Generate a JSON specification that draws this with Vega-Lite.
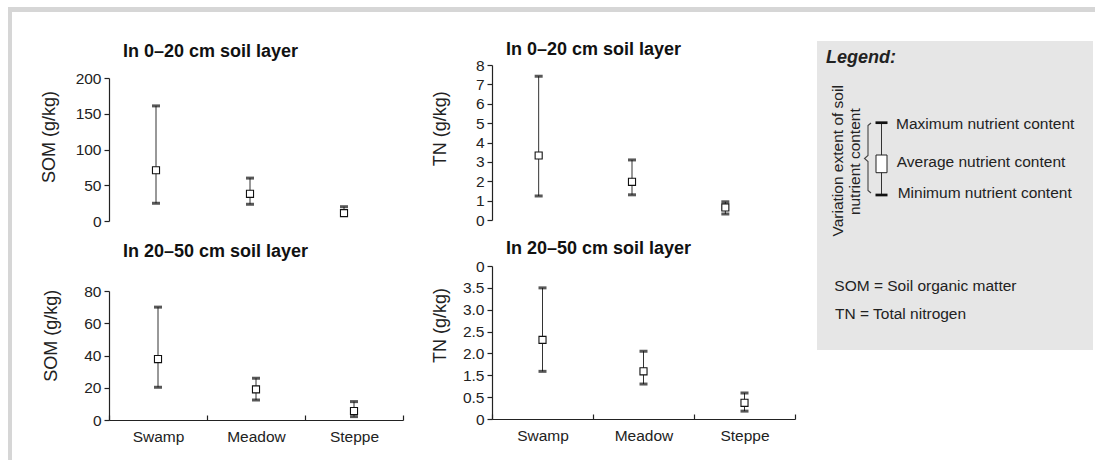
{
  "$schema": "https://vega.github.io/schema/vega-lite/v6.json",
  "padding": {"left": 8, "top": 7, "right": 0, "bottom": 0},
  "background": "white",
  "config": {
    "view": {"stroke": null},
    "font": "Liberation Sans",
    "axis": {
      "domainColor": "#222", "domainWidth": 1.2, "tickColor": "#222", "tickWidth": 1.2,
      "labelColor": "#222", "labelFont": "Liberation Sans", "labelFontSize": 15.5,
      "titleFont": "Liberation Sans", "titleFontSize": 18, "titleFontWeight": "normal", "titleColor": "#222",
      "grid": false, "labelOverlap": false
    },
    "axisY": {"tickSize": 5, "labelPadding": 3, "titleAngle": 270, "titleBaseline": "middle", "titleAlign": "center", "labelOverlap": false},
    "title": {"font": "Liberation Sans", "fontSize": 18, "fontWeight": "bold", "color": "#111", "anchor": "start", "frame": "group", "dx": 14}
  },
  "datasets": {
    "som0": [
      {"site": "Swamp", "min": 24.8, "mean": 71, "max": 161},
      {"site": "Meadow", "min": 23.4, "mean": 38, "max": 60},
      {"site": "Steppe", "min": 9, "mean": 11, "max": 20}
    ],
    "tn0": [
      {"site": "Swamp", "min": 1.24, "mean": 3.33, "max": 7.42},
      {"site": "Meadow", "min": 1.3, "mean": 1.97, "max": 3.1},
      {"site": "Steppe", "min": 0.31, "mean": 0.65, "max": 0.94}
    ],
    "som20": [
      {"site": "Swamp", "min": 20.3, "mean": 37.8, "max": 70},
      {"site": "Meadow", "min": 12.4, "mean": 19, "max": 25.9},
      {"site": "Steppe", "min": 2.1, "mean": 5.6, "max": 11.4}
    ],
    "tn20": [
      {"site": "Swamp", "min": 1.59, "mean": 2.31, "max": 3.5},
      {"site": "Meadow", "min": 1.1, "mean": 1.59, "max": 2.05},
      {"site": "Steppe", "min": 0.18, "mean": 0.37, "max": 0.69}
    ],
    "empty": [],
    "legendHead": [{"t": "Legend:", "x": 9, "y": 22}],
    "legendBody": [
      {"t": "Maximum nutrient content", "x": 79, "y": 88.3},
      {"t": "Average nutrient content", "x": 79.7, "y": 126.3},
      {"t": "Minimum nutrient content", "x": 80.7, "y": 157.3},
      {"t": "SOM = Soil organic matter", "x": 17.3, "y": 250},
      {"t": "TN = Total nitrogen", "x": 18, "y": 277.7}
    ],
    "legendRot": [
      {"t": "Variation extent of soil", "x": 20.5, "y": 119.8},
      {"t": "nutrient content", "x": 38, "y": 120.7}
    ],
    "brace": [
      {"i": 0, "x": 54, "y": 82}, {"i": 1, "x": 51, "y": 84.5}, {"i": 2, "x": 51, "y": 114.5},
      {"i": 3, "x": 47.5, "y": 117.5}, {"i": 4, "x": 51, "y": 120.5}, {"i": 5, "x": 51, "y": 149.5},
      {"i": 6, "x": 54, "y": 152}
    ],
    "symLine": [{"x": 64.5, "y1": 81.7, "y2": 154}],
    "symCaps": [{"x1": 58.5, "x2": 70.5, "y": 81.7}, {"x1": 58.5, "x2": 70.5, "y": 154}],
    "symBox": [{"x1": 59, "x2": 70, "y1": 114, "y2": 131.7}]
  },
  "spacing": 0,
  "hconcat": [
    {
      "width": 4, "height": 453,
      "view": {"fill": "#d6d6d6", "stroke": null},
      "data": {"name": "empty"},
      "mark": "point",
      "encoding": {}
    },
    {
      "spacing": 27,
      "vconcat": [
        {
          "width": 1083, "height": 5,
          "view": {"fill": "#d6d6d6", "stroke": null},
          "data": {"name": "empty"},
          "mark": "point",
          "encoding": {}
        },
        {
          "spacing": 26,
          "hconcat": [
            {
              "width": 1, "height": 1,
              "data": {"name": "empty"},
              "mark": "point",
              "encoding": {}
            },
            {
              "spacing": 3,
              "vconcat": [
                {
                  "width": 1, "height": 1,
                  "data": {"name": "empty"},
                  "mark": "point",
                  "encoding": {}
                },
                {
                  "spacing": 13,
                  "vconcat": [
                    {
                      "width": 282, "height": 143,
                      "title": {"text": "In 0–20 cm soil layer", "offset": 10},
                      "data": {"name": "som0"},
                      "encoding": {
                        "x": {"field": "site", "type": "nominal", "scale": {"type": "band", "domain": ["Swamp", "Meadow", "Steppe"], "paddingInner": 0, "paddingOuter": 0}, "axis": null}
                      },
                      "layer": [
                        {
                          "mark": {"type": "rule", "color": "#333", "strokeWidth": 1},
                          "encoding": {
                            "y": {"field": "min", "type": "quantitative", "scale": {"domain": [0, 200], "nice": false}, "axis": {"title": "SOM (g/kg)", "values": [0, 50, 100, 150, 200], "format": "d", "tickCount": 20, "labelOverlap": false, "titleX": -60, "titleY": 58.5}},
                            "y2": {"field": "max"}
                          }
                        },
                        {"mark": {"type": "tick", "color": "#111", "thickness": 3, "size": 8, "orient": "horizontal"}, "encoding": {"y": {"field": "max", "type": "quantitative"}}},
                        {"mark": {"type": "tick", "color": "#111", "thickness": 3, "size": 8, "orient": "horizontal"}, "encoding": {"y": {"field": "min", "type": "quantitative"}}},
                        {"mark": {"type": "point", "shape": "square", "size": 50, "filled": true, "fill": "white", "stroke": "#111", "strokeWidth": 1.1, "opacity": 1}, "encoding": {"y": {"field": "mean", "type": "quantitative"}}}
                      ]
                    },
                    {
                      "width": 294, "height": 129,
                      "title": {"text": "In 20–50 cm soil layer", "offset": 23},
                      "data": {"name": "som20"},
                      "encoding": {
                        "x": {"field": "site", "type": "nominal", "scale": {"type": "band", "domain": ["Swamp", "Meadow", "Steppe"], "paddingInner": 0, "paddingOuter": 0}, "axis": {"title": null, "labelAngle": 0, "tickBand": "extent", "tickSize": -5, "labelPadding": 14}}
                      },
                      "layer": [
                        {
                          "mark": {"type": "rule", "color": "#333", "strokeWidth": 1},
                          "encoding": {
                            "y": {"field": "min", "type": "quantitative", "scale": {"domain": [0, 80], "nice": false}, "axis": {"title": "SOM (g/kg)", "values": [0, 20, 40, 60, 80], "format": "d", "tickCount": 20, "labelOverlap": false, "titleX": -58, "titleY": 44.3}},
                            "y2": {"field": "max"}
                          }
                        },
                        {"mark": {"type": "tick", "color": "#111", "thickness": 3, "size": 8, "orient": "horizontal"}, "encoding": {"y": {"field": "max", "type": "quantitative"}}},
                        {"mark": {"type": "tick", "color": "#111", "thickness": 3, "size": 8, "orient": "horizontal"}, "encoding": {"y": {"field": "min", "type": "quantitative"}}},
                        {"mark": {"type": "point", "shape": "square", "size": 50, "filled": true, "fill": "white", "stroke": "#111", "strokeWidth": 1.1, "opacity": 1}, "encoding": {"y": {"field": "mean", "type": "quantitative"}}}
                      ]
                    }
                  ]
                }
              ]
            },
            {
              "spacing": 21,
              "hconcat": [
                {
                  "spacing": 1,
                  "vconcat": [
                    {
                      "width": 1, "height": 1,
                      "data": {"name": "empty"},
                      "mark": "point",
                      "encoding": {}
                    },
                    {
                      "spacing": 11,
                      "vconcat": [
                        {
                          "width": 280, "height": 155,
                          "title": {"text": "In 0–20 cm soil layer", "offset": -1},
                          "data": {"name": "tn0"},
                          "encoding": {
                            "x": {"field": "site", "type": "nominal", "scale": {"type": "band", "domain": ["Swamp", "Meadow", "Steppe"], "paddingInner": 0, "paddingOuter": 0}, "axis": null}
                          },
                          "layer": [
                            {
                              "mark": {"type": "rule", "color": "#333", "strokeWidth": 1},
                              "encoding": {
                                "y": {"field": "min", "type": "quantitative", "scale": {"domain": [0, 8], "nice": false}, "axis": {"title": "TN (g/kg)", "values": [0, 1, 2, 3, 4, 5, 6, 7, 8], "format": "d", "tickCount": 20, "labelOverlap": false, "titleX": -52, "titleY": 63.3}},
                                "y2": {"field": "max"}
                              }
                            },
                            {"mark": {"type": "tick", "color": "#111", "thickness": 3, "size": 8, "orient": "horizontal"}, "encoding": {"y": {"field": "max", "type": "quantitative"}}},
                            {"mark": {"type": "tick", "color": "#111", "thickness": 3, "size": 8, "orient": "horizontal"}, "encoding": {"y": {"field": "min", "type": "quantitative"}}},
                            {"mark": {"type": "point", "shape": "square", "size": 50, "filled": true, "fill": "white", "stroke": "#111", "strokeWidth": 1.1, "opacity": 1}, "encoding": {"y": {"field": "mean", "type": "quantitative"}}}
                          ]
                        },
                        {
                          "width": 303, "height": 153,
                          "title": {"text": "In 20–50 cm soil layer", "offset": 1},
                          "data": {"name": "tn20"},
                          "encoding": {
                            "x": {"field": "site", "type": "nominal", "scale": {"type": "band", "domain": ["Swamp", "Meadow", "Steppe"], "paddingInner": 0, "paddingOuter": 0}, "axis": {"title": null, "labelAngle": 0, "tickBand": "extent", "tickSize": -5, "labelPadding": 14}}
                          },
                          "layer": [
                            {
                              "mark": {"type": "rule", "color": "#333", "strokeWidth": 1},
                              "encoding": {
                                "y": {"field": "min", "type": "quantitative", "scale": {"domain": [0, 0.5, 1.5, 4], "range": [153, 131.14, 109.29, 0], "nice": false, "zero": false}, "axis": {"title": "TN (g/kg)", "values": [0, 0.5, 1.5, 2, 2.5, 3, 3.5, 4], "tickCount": 20, "labelOverlap": false, "labelExpr": "datum.value == 0 || datum.value == 4 ? '0' : format(datum.value, '.1f')", "titleX": -52, "titleY": 59}},
                                "y2": {"field": "max"}
                              }
                            },
                            {"mark": {"type": "tick", "color": "#111", "thickness": 3, "size": 8, "orient": "horizontal"}, "encoding": {"y": {"field": "max", "type": "quantitative"}}},
                            {"mark": {"type": "tick", "color": "#111", "thickness": 3, "size": 8, "orient": "horizontal"}, "encoding": {"y": {"field": "min", "type": "quantitative"}}},
                            {"mark": {"type": "point", "shape": "square", "size": 50, "filled": true, "fill": "white", "stroke": "#111", "strokeWidth": 1.1, "opacity": 1}, "encoding": {"y": {"field": "mean", "type": "quantitative"}}}
                          ]
                        }
                      ]
                    }
                  ]
                },
                {
                  "spacing": 1,
                  "vconcat": [
                    {
                      "width": 1, "height": 1,
                      "data": {"name": "empty"},
                      "mark": "point",
                      "encoding": {}
                    },
                    {
                      "width": 276, "height": 309,
                      "view": {"fill": "#e6e6e6", "stroke": null},
                      "layer": [
                        {
                          "data": {"name": "legendHead"},
                          "mark": {"type": "text", "align": "left", "baseline": "alphabetic", "fontSize": 18, "fontWeight": "bold", "fontStyle": "italic", "color": "#222"},
                          "encoding": {
                            "x": {"field": "x", "type": "quantitative", "scale": {"domain": [0, 276], "nice": false, "zero": false}, "axis": null},
                            "y": {"field": "y", "type": "quantitative", "scale": {"domain": [0, 309], "nice": false, "zero": false, "reverse": true}, "axis": null},
                            "text": {"field": "t"}
                          }
                        },
                        {
                          "data": {"name": "legendBody"},
                          "mark": {"type": "text", "align": "left", "baseline": "alphabetic", "fontSize": 15.5, "color": "#222"},
                          "encoding": {
                            "x": {"field": "x", "type": "quantitative"},
                            "y": {"field": "y", "type": "quantitative"},
                            "text": {"field": "t"}
                          }
                        },
                        {
                          "data": {"name": "legendRot"},
                          "mark": {"type": "text", "align": "center", "baseline": "middle", "angle": 270, "fontSize": 15.5, "color": "#222"},
                          "encoding": {
                            "x": {"field": "x", "type": "quantitative"},
                            "y": {"field": "y", "type": "quantitative"},
                            "text": {"field": "t"}
                          }
                        },
                        {
                          "data": {"name": "brace"},
                          "mark": {"type": "line", "color": "#444", "strokeWidth": 1.1},
                          "encoding": {
                            "x": {"field": "x", "type": "quantitative"},
                            "y": {"field": "y", "type": "quantitative"},
                            "order": {"field": "i", "type": "quantitative"}
                          }
                        },
                        {
                          "data": {"name": "symLine"},
                          "mark": {"type": "rule", "color": "#333", "strokeWidth": 1},
                          "encoding": {
                            "x": {"field": "x", "type": "quantitative"},
                            "y": {"field": "y1", "type": "quantitative"},
                            "y2": {"field": "y2"}
                          }
                        },
                        {
                          "data": {"name": "symCaps"},
                          "mark": {"type": "rule", "color": "#111", "strokeWidth": 2.7},
                          "encoding": {
                            "x": {"field": "x1", "type": "quantitative"},
                            "x2": {"field": "x2"},
                            "y": {"field": "y", "type": "quantitative"}
                          }
                        },
                        {
                          "data": {"name": "symBox"},
                          "mark": {"type": "rect", "fill": "white", "stroke": "#222", "strokeWidth": 1},
                          "encoding": {
                            "x": {"field": "x1", "type": "quantitative"},
                            "x2": {"field": "x2"},
                            "y": {"field": "y1", "type": "quantitative"},
                            "y2": {"field": "y2"}
                          }
                        }
                      ]
                    }
                  ]
                }
              ]
            }
          ]
        }
      ]
    }
  ]
}
